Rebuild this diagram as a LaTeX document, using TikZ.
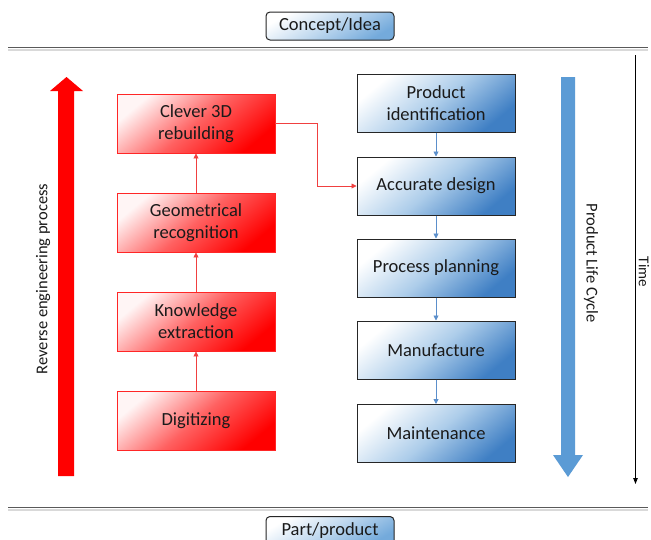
\documentclass[tikz,border=0pt]{standalone}
\usepackage{fontspec}
\setmainfont{Carlito}
\usetikzlibrary{arrows.meta}
\definecolor{txt}{HTML}{1A1A1A}
\definecolor{officeblue}{HTML}{5B9BD5}
\definecolor{deepblue}{HTML}{3F7FC4}
\definecolor{lineblue}{HTML}{5B8FCB}
\definecolor{redline}{HTML}{F04040}
\tikzset{
  redbox/.style={draw=red!85!white, line width=0.9pt, minimum width=158pt, minimum height=59pt,
    align=center, font=\fontsize{18.5}{22}\selectfont, text=txt, inner sep=0pt,
    top color=red!4, bottom color=red, middle color=red!62!white, shading angle=40},
  bluebox/.style={draw=black!85, line width=1pt, minimum width=158pt, minimum height=58pt,
    align=center, font=\fontsize{18.5}{22}\selectfont, text=txt, inner sep=0pt,
    top color=white, bottom color=deepblue, middle color=officeblue!50!white, shading angle=40},
  endbox/.style={draw=black!85, line width=1pt, rounded corners=4pt, minimum width=128pt, minimum height=28pt,
    font=\fontsize{18.5}{22}\selectfont, text=txt, inner sep=0pt,
    top color=white, bottom color=officeblue!85!white, middle color=officeblue!40!white, shading angle=30},
  redcon/.style={draw=redline, line width=0.8pt, -{Triangle[length=5pt,width=5pt]}},
  bluecon/.style={draw=lineblue, line width=0.9pt, -{Triangle[length=5pt,width=5pt]}},
  sidelabel/.style={font=\fontsize{16.5}{19}\selectfont, text=txt, inner sep=0pt},
  sepline/.style={draw=black!65, line width=1.6pt},
}
\begin{document}
\begin{tikzpicture}[x=1pt,y=-1pt]
\useasboundingbox (0,0) rectangle (651,539);
\clip (0,0) rectangle (651,539);
\fill[white] (0,0) rectangle (651,539);

% separator lines
\draw[black!15, line width=2pt] (8,50) -- (648,50);
\draw[black!15, line width=2pt] (8,510) -- (648,510);
\draw[sepline] (8,47.5) -- (648,47.5);
\draw[sepline] (8,507.5) -- (648,507.5);

% end boxes
\node[endbox] (idea) at (330,26) {Concept/Idea};
\node[endbox, anchor=north] (part) at (330,516) {Part/product};

% big red arrow
\fill[red] (58,476) -- (58,91) -- (50,91) -- (66.5,77) -- (83,91) -- (74,91) -- (74,476) -- cycle;
\node[sidelabel, rotate=90] (rep) at (43,279) {Reverse engineering process};

% big blue arrow
\fill[officeblue] (561,77) -- (575,77) -- (575,455) -- (583,455) -- (568,477) -- (553,455) -- (561,455) -- cycle;
\node[sidelabel, rotate=-90] (plc) at (591,263) {Product Life Cycle};

% time arrow
\coordinate (t0) at (635.5,55);
\coordinate (t1) at (635.5,484);
\draw[black, line width=0.9pt, -{Triangle[length=6pt,width=4.5pt]}] (t0) -- (t1);
\node[font=\fontsize{15}{18}\selectfont, text=txt, rotate=-90, inner sep=0pt] (time) at (644,272) {Time};

% red boxes
\node[redbox] (clever) at (196,123.5) {Clever 3D\\rebuilding};
\node[redbox] (geom) at (196,222.5) {Geometrical\\recognition};
\node[redbox] (know) at (196,321.5) {Knowledge\\extraction};
\node[redbox] (digit) at (196,420.5) {Digitizing};

% blue boxes
\node[bluebox] (ident) at (436,103) {Product\\identification};
\node[bluebox] (design) at (436,186) {Accurate design};
\node[bluebox] (plan) at (436,268) {Process planning};
\node[bluebox] (manuf) at (436,350) {Manufacture};
\node[bluebox] (maint) at (436,433.5) {Maintenance};

% connectors
\draw[redcon] (digit.north) -- (know.south);
\draw[redcon] (know.north) -- (geom.south);
\draw[redcon] (geom.north) -- (clever.south);
\draw[redcon] (clever.east) -- ++(42,0) |- (design.west);

\draw[bluecon] (ident.south) -- (design.north);
\draw[bluecon] (design.south) -- (plan.north);
\draw[bluecon] (plan.south) -- (manuf.north);
\draw[bluecon] (manuf.south) -- (maint.north);
\end{tikzpicture}
\end{document}
